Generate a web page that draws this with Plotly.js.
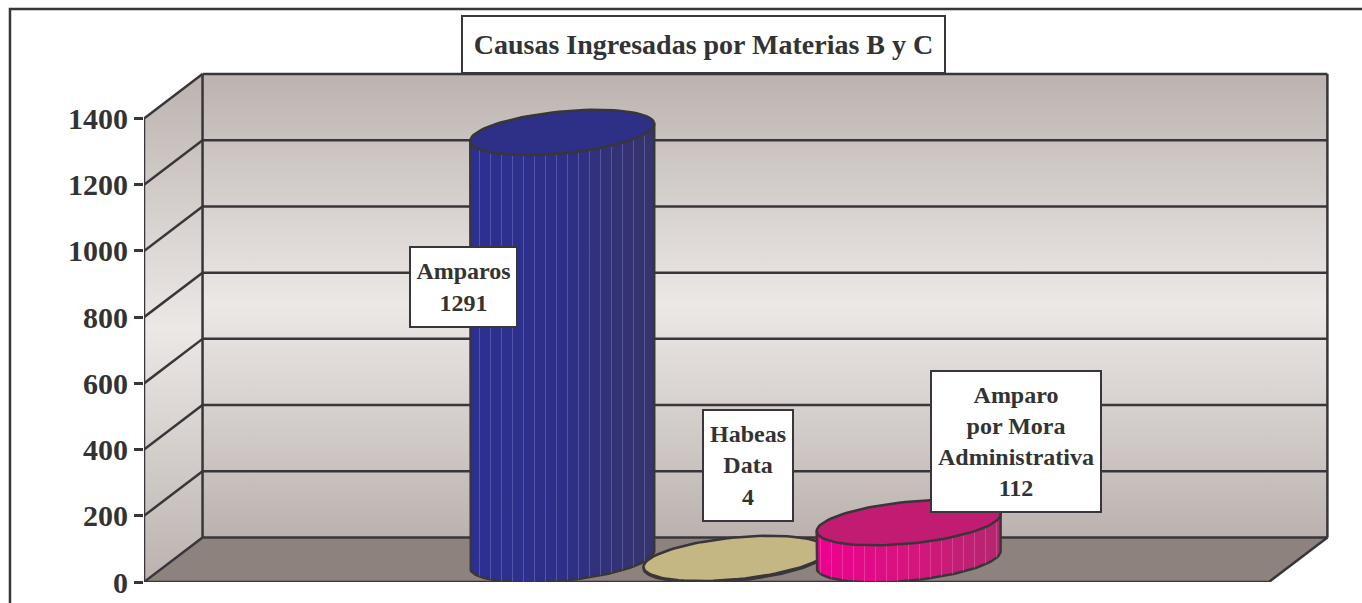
<!DOCTYPE html>
<html>
<head>
<meta charset="utf-8">
<script src="https://cdn.plot.ly/plotly-3.0.1.min.js"></script>
<style>html,body{margin:0;padding:0;background:#fff;}#chart{width:1362px;height:603px;}</style>
</head>
<body>
<div id="chart"></div>
<script>
// ---- data ----
const categories = ['Amparos', 'Habeas Data', 'Amparo por Mora Administrativa'];
const values = [1291, 4, 112];
const labelLines = [['Amparos'], ['Habeas', 'Data'], ['Amparo', 'por Mora', 'Administrativa']];
const yTicks = [0, 200, 400, 600, 800, 1000, 1200, 1400];
const titleText = 'Causas Ingresadas por Materias B y C';

// ---- styling ----
const bodyScales = [
  [[0, '#2D3092'], [0.5, '#2D2F88'], [1, '#37346A']],
  [[0, '#CBBE8A'], [1, '#B7A977']],
  [[0, '#EE0090'], [0.5, '#D6147E'], [1, '#B3276E']]
];
const topColors = ['#2E3088', '#C4B784', '#C21C72'];
const stripeColors = ['rgba(150,155,225,0.45)', 'rgba(255,255,240,0.2)', 'rgba(255,140,205,0.4)'];
const edge = '#38363A';

// geometry (axis units)
const XL = -2.415, XR = 4.08, XMAX = 4.433;   // front-left, front-right floor corner
const DX = 0.338, DY = 134.5;                 // depth offset of back wall
const HALF = DY / 2;                          // cylinders sit at mid depth
const A = 0.531, B = 63.4, K = 25.7;          // ellipse radii and perspective shear
const YMAX = 1400, YTOP = 1577;

function pt(cx, cy, t) { return [cx + A * Math.cos(t), cy + B * Math.sin(t) + K * Math.cos(t)]; }

const traces = [];
const wallScale = [[0, '#BBB2AF'], [0.5, '#ECE8E6'], [1, '#BCB3B0']];
// side wall
traces.push({
  x: [XL, XL, XL + DX, XL + DX, XL], y: [0, YMAX, YMAX + DY, DY, 0],
  type: 'scatter', mode: 'lines', fill: 'toself', line: {width: 0},
  fillgradient: {type: 'vertical', start: 0, stop: YMAX + DY, colorscale: wallScale},
  hoverinfo: 'skip', showlegend: false
});
// back wall
traces.push({
  x: [XL + DX, XR + DX, XR + DX, XL + DX, XL + DX], y: [DY, DY, YMAX + DY, YMAX + DY, DY],
  type: 'scatter', mode: 'lines', fill: 'toself', line: {width: 0},
  fillgradient: {type: 'vertical', start: DY, stop: YMAX + DY, colorscale: wallScale},
  hoverinfo: 'skip', showlegend: false
});
// floor
traces.push({
  x: [XL, XR, XR + DX, XL + DX, XL], y: [0, 0, DY, DY, 0],
  type: 'scatter', mode: 'lines', fill: 'toself', fillcolor: '#8E827E', line: {width: 0},
  hoverinfo: 'skip', showlegend: false
});
// grid and frame lines
const gx = [], gy = [];
function seg(x0, y0, x1, y1) { gx.push(x0, x1, null); gy.push(y0, y1, null); }
yTicks.forEach(v => {
  seg(XL, v, XL + DX, v + DY);
  seg(XL + DX, v + DY, XR + DX, v + DY);
});
seg(XL + DX, DY, XL + DX, YMAX + DY);
seg(XR + DX, DY, XR + DX, YMAX + DY);
seg(XL, 0, XR, 0);
seg(XR, 0, XR + DX, DY);
seg(XR, 0, XR, -22);
seg(XL, -22, XL, YMAX);
traces.push({x: gx, y: gy, type: 'scatter', mode: 'lines', line: {color: edge, width: 2.5},
  hoverinfo: 'skip', showlegend: false, connectgaps: false});

// cylinders
values.forEach((v, i) => {
  const cx = i, tc = v + HALF, bc = HALF;
  const bx = [], by = [];
  bx.push(cx - A, cx - A); by.push(tc - K, bc - K);
  for (let s = 0; s <= 60; s++) {
    const p = pt(cx, bc, Math.PI + Math.PI * s / 60);
    bx.push(p[0]); by.push(p[1]);
  }
  bx.push(cx + A, cx - A); by.push(tc + K, tc - K);
  traces.push({
    x: bx, y: by, type: 'scatter', mode: 'lines', fill: 'toself',
    fillgradient: {type: 'horizontal', colorscale: bodyScales[i]},
    line: {color: edge, width: 2.5}, name: categories[i],
    hoverinfo: 'skip', showlegend: false
  });
  traces.push({
    x: bx, y: by, type: 'scatter', mode: 'lines', fill: 'toself',
    fillcolor: 'rgba(0,0,0,0)',
    fillpattern: {shape: '|', size: 11, solidity: 0.07, fgcolor: stripeColors[i], bgcolor: 'rgba(0,0,0,0)'},
    line: {width: 0}, hoverinfo: 'skip', showlegend: false
  });
  const ex = [], ey = [];
  for (let s = 0; s <= 90; s++) {
    const p = pt(cx, tc, 2 * Math.PI * s / 90);
    ex.push(p[0]); ey.push(p[1]);
  }
  traces.push({
    x: ex, y: ey, type: 'scatter', mode: 'lines', fill: 'toself', fillcolor: topColors[i],
    line: {color: edge, width: 2.5}, name: categories[i],
    text: categories[i] + ': ' + v, hoverinfo: 'text', hoveron: 'fills', showlegend: false
  });
});

const lblFont = {family: 'Liberation Serif, Times New Roman, serif', size: 24, color: '#333', weight: 'bold'};
const lblPos = [[-0.572, 891, 97, 70], [1.072, 351, 80, 101], [2.62, 424, 160, 131]];
const annotations = values.map((v, i) => ({
  x: lblPos[i][0], y: lblPos[i][1], xref: 'x', yref: 'y',
  text: labelLines[i].concat([String(v)]).join('<br>'),
  showarrow: false, xanchor: 'center', yanchor: 'middle', align: 'center',
  width: lblPos[i][2], height: lblPos[i][3],
  bgcolor: '#FFFFFF', bordercolor: edge, borderwidth: 2, borderpad: 4, font: lblFont
}));
annotations.push({
  x: 0.4717, y: 1.0297, xref: 'paper', yref: 'paper', text: titleText,
  showarrow: false, xanchor: 'center', yanchor: 'middle', width: 473, height: 47,
  bgcolor: '#FFFFFF', bordercolor: edge, borderwidth: 2, borderpad: 4,
  font: {family: 'Liberation Serif, Times New Roman, serif', size: 28, color: '#333', weight: 'bold'}
});

const layout = {
  width: 1362, height: 603,
  margin: {l: 144, r: 32, t: 60, b: 21, pad: 0},
  paper_bgcolor: '#FFFFFF', plot_bgcolor: 'rgba(0,0,0,0)',
  showlegend: false,
  xaxis: {range: [XL, XMAX], showgrid: false, zeroline: false, showticklabels: false,
    ticks: '', showline: false, fixedrange: true},
  yaxis: {range: [0, YTOP], tickvals: yTicks, ticktext: yTicks.map(String),
    showgrid: false, zeroline: false, showline: false,
    ticks: 'outside', ticklen: 9, tickwidth: 2.5, tickcolor: edge,
    tickfont: {family: 'Liberation Serif, Times New Roman, serif', size: 30, color: '#333', weight: 'bold'},
    fixedrange: true},
  annotations: annotations,
  shapes: [{type: 'rect', xref: 'paper', yref: 'paper', x0: -0.113, x1: 1.04, y0: -0.06, y1: 1.0977,
    line: {color: edge, width: 2.5}, fillcolor: 'rgba(0,0,0,0)', layer: 'above'}]
};

Plotly.newPlot('chart', traces, layout, {displayModeBar: false, staticPlot: false});
</script>
</body>
</html>
